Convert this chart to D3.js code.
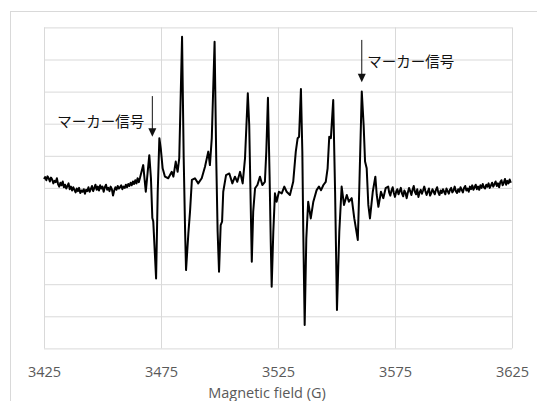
<!DOCTYPE html>
<html>
<head>
<meta charset="utf-8">
<script src="https://cdn.jsdelivr.net/npm/d3@7/dist/d3.min.js"></script>
<style>
  body { margin: 0; background: #fff; }
  svg { display: block; }
  .grid line { stroke: #d9d9d9; stroke-width: 1; }
  .grid path { display: none; }
  .tick-labels text { fill: #595959; font-family: 'Open Sans', sans-serif; font-size: 14.5px; }
  .tick-labels path { display: none; }
  .axis-title { fill: #595959; font-family: 'Open Sans', sans-serif; font-size: 14.5px; }
  .marker-text { fill: #111; font-family: 'Noto Sans CJK JP', sans-serif; font-size: 14.5px; }
</style>
</head>
<body>
<svg id="chart"></svg>
<script>
  // Data: magnetic field (G) vs. ESR signal (arb. units)
  var xTicks = [3425, 3475, 3525, 3575, 3625]
  var yGrid = [-500, -400, -300, -200, -100, 0, 100, 200, 300, 400, 500]
  var xLabel = 'Magnetic field (G)'
  var markerLabel = 'マーカー信号'
  // marker signals: field of arrow, arrow start / tip in signal units
  var markerField = [3471.3, 3560.8]
  var markerFrom = [286, 461]
  var markerTo = [159, 329]

  // baseline noise, left of the signals
  var leftBaseline = [
    [3425, 28], [3425.5, 34], [3426, 24], [3426.5, 36], [3427, 30], [3427.5, 20],
    [3428, 32], [3428.5, 26], [3429, 14], [3429.5, 22], [3430, 18], [3430.5, 30],
    [3431, 12], [3431.5, 4], [3432, 16], [3432.5, 8], [3433, 20], [3433.5, 2],
    [3434, 10], [3434.5, -2], [3435, 6], [3435.5, 14], [3436, -4], [3436.5, 4],
    [3437, -8], [3437.5, 2], [3438, -6], [3438.5, -14], [3439, -2], [3439.5, -10],
    [3440, 0], [3440.5, -16], [3441, -8], [3441.5, -12], [3442, -4], [3442.5, -18],
    [3443, -6], [3443.5, -10], [3444, 2], [3444.5, -12], [3445, -4], [3445.5, 6],
    [3446, -10], [3446.5, 0], [3447, 10], [3447.5, -6], [3448, 4], [3448.5, -8],
    [3449, 8], [3449.5, -2], [3450, 4], [3450.5, -12], [3451, 2], [3451.5, 10],
    [3452, -6], [3452.5, 0], [3453, -10], [3453.5, 4], [3454, -4], [3454.5, -24],
    [3455, -8], [3455.5, 2], [3456, -6], [3456.5, 6], [3457, -2], [3457.5, 2],
    [3458, 8], [3458.5, -4], [3459, 4], [3459.5, 0], [3460, 10], [3460.5, 2],
    [3461, 12], [3461.5, 6], [3462, 16], [3462.5, 8], [3463, 20], [3463.5, 12],
    [3464, 24], [3464.5, 14], [3465, 30], [3465.5, 18]
  ]

  // hyperfine lines and the two marker signals
  var signalRegion = [
    [3466.0, 31], [3467.4, 71], [3468.5, -12], [3470.0, 102], [3470.7, 31],
    [3471.3, -94], [3471.7, -105], [3472.9, -282], [3473.6, -12], [3474.3, 155],
    [3474.9, 123], [3475.7, 61], [3476.7, 35], [3478.1, 30], [3479.6, 50],
    [3480.3, 35], [3481.3, 82], [3482.1, 50], [3482.8, 93], [3484.0, 471],
    [3484.7, 93], [3485.3, -136], [3485.7, -256], [3486.7, -141], [3487.4, -74],
    [3488.2, 25], [3489.5, 30], [3490.9, 14], [3492.4, 30], [3493.8, 66],
    [3495.2, 113], [3495.9, 71], [3496.7, 155], [3497.9, 455], [3498.6, 93],
    [3499.2, -136], [3499.8, -261], [3500.5, -116], [3501.1, -105], [3501.6, -12],
    [3502.8, 40], [3504.2, 45], [3505.5, 14], [3506.6, 35], [3507.6, 19],
    [3508.8, 50], [3509.9, 14], [3510.9, 92], [3512.1, 295], [3512.7, 196],
    [3513.5, -116], [3513.8, -230], [3514.4, -74], [3515.2, -1], [3516.2, 9],
    [3517.3, 35], [3518.3, 9], [3519.4, 19], [3520.0, 113], [3520.7, 281],
    [3521.4, 40], [3521.9, -168], [3522.3, -308], [3523.0, -136], [3523.7, -17],
    [3524.4, -43], [3525.4, -12], [3526.6, -17], [3527.7, 4], [3528.7, -12],
    [3530.1, -22], [3531.5, 19], [3532.6, 113], [3533.4, 155], [3534.0, 159],
    [3534.8, 308], [3535.4, 113], [3535.8, -136], [3536.4, -427], [3537.1, -157],
    [3537.9, -43], [3539.0, -95], [3540.1, -43], [3541.5, -7], [3542.5, 4],
    [3543.4, -7], [3544.4, 9], [3545.4, 19], [3546.2, 61], [3546.9, 159],
    [3547.6, 155], [3548.6, 274], [3549.4, -12], [3550.2, -380], [3551.2, -136],
    [3552.2, 4], [3553.2, -53], [3554.4, -22], [3555.3, -43], [3556.5, -32],
    [3557.6, -95], [3559.1, -162], [3559.7, -12], [3560.8, 300], [3561.6, 196],
    [3562.2, 82], [3562.9, 61], [3563.6, -53], [3564.3, -95], [3565.5, -12],
    [3566.6, 35], [3567.2, -22], [3567.9, -59], [3569.0, -12], [3570.0, -32],
    [3571.0, -1], [3572.1, 4]
  ]

  // baseline noise, right of the signals
  var rightBaseline = [
    [3572.5, -14], [3573, -24], [3573.5, -8], [3574, 2], [3574.5, -16], [3575, -28],
    [3575.5, -12], [3576, -4], [3576.5, -20], [3577, -10], [3577.5, 0], [3578, -18],
    [3578.5, -26], [3579, -8], [3579.5, -16], [3580, -32], [3580.5, -14], [3581, 0],
    [3581.5, -10], [3582, -22], [3582.5, -6], [3583, 6], [3583.5, -12], [3584, -20],
    [3584.5, -4], [3585, -28], [3585.5, -14], [3586, -6], [3586.5, -18], [3587, -8],
    [3587.5, 4], [3588, -10], [3588.5, -22], [3589, -12], [3589.5, -2], [3590, -24],
    [3590.5, -16], [3591, -4], [3591.5, -12], [3592, -20], [3592.5, -6], [3593, 2],
    [3593.5, -14], [3594, -22], [3594.5, -8], [3595, -16], [3595.5, -4], [3596, -12],
    [3596.5, -20], [3597, -2], [3597.5, -10], [3598, -18], [3598.5, -6], [3599, 0],
    [3599.5, -14], [3600, -8], [3600.5, 4], [3601, -10], [3601.5, -16], [3602, -4],
    [3602.5, -12], [3603, 2], [3603.5, -6], [3604, -14], [3604.5, 0], [3605, 6],
    [3605.5, -8], [3606, -2], [3606.5, -12], [3607, 4], [3607.5, -4], [3608, 8],
    [3608.5, -6], [3609, 2], [3609.5, 10], [3610, -4], [3610.5, 4], [3611, -6],
    [3611.5, 8], [3612, 0], [3612.5, 12], [3613, 2], [3613.5, -2], [3614, 10],
    [3614.5, 4], [3615, 14], [3615.5, 0], [3616, 8], [3616.5, 16], [3617, 4],
    [3617.5, 12], [3618, 20], [3618.5, 6], [3619, 14], [3619.5, 2], [3620, 18],
    [3620.5, 24], [3621, 8], [3621.5, 16], [3622, 28], [3622.5, 10], [3623, 22],
    [3623.5, 14], [3624, 26], [3624.5, 16]
  ]

  var spectrum = leftBaseline.concat(signalRegion, rightBaseline)

  // Layout
  var WIDTH = 537
  var HEIGHT = 401
  var margin = { top: 27.4, right: 25, bottom: 52.6, left: 44 }
  var innerW = WIDTH - margin.left - margin.right
  var innerH = HEIGHT - margin.top - margin.bottom

  var svg = d3.select('#chart')
    .attr('width', WIDTH)
    .attr('height', HEIGHT)

  // chart area border
  svg.append('rect')
    .attr('x', 10.5)
    .attr('y', 11.5)
    .attr('width', 600)
    .attr('height', 500)
    .attr('fill', 'none')
    .attr('stroke', '#d9d9d9')

  var g = svg.append('g')
    .attr('transform', 'translate(' + margin.left + ',' + margin.top + ')')

  var x = d3.scaleLinear().domain([3425, 3625]).range([0, innerW])
  var y = d3.scaleLinear().domain([-500, 500]).range([innerH, 0])

  // horizontal grid
  g.append('g')
    .attr('class', 'grid')
    .call(d3.axisLeft(y).tickValues(yGrid).tickSize(-innerW).tickFormat(''))

  // vertical grid
  g.append('g')
    .attr('class', 'grid')
    .attr('transform', 'translate(0,' + innerH + ')')
    .call(d3.axisBottom(x).tickValues(xTicks).tickSize(-innerH).tickFormat(''))

  // tick labels
  g.append('g')
    .attr('class', 'tick-labels')
    .attr('transform', 'translate(0,' + innerH + ')')
    .call(d3.axisBottom(x).tickValues(xTicks).tickSize(0).tickPadding(18).tickFormat(d3.format('d')))

  svg.append('text')
    .attr('class', 'axis-title')
    .attr('x', 267)
    .attr('y', 398)
    .attr('text-anchor', 'middle')
    .text(xLabel)

  // spectrum
  var line = d3.line()
    .x(function (d) { return x(d[0]) })
    .y(function (d) { return y(d[1]) })

  g.append('path')
    .datum(spectrum)
    .attr('d', line)
    .attr('fill', 'none')
    .attr('stroke', '#000')
    .attr('stroke-width', 2)
    .attr('stroke-linejoin', 'round')

  // marker annotations
  var markers = markerField.map(function (f, i) {
    return { field: f, from: markerFrom[i], to: markerTo[i], side: i === 0 ? 'left' : 'right' }
  })

  var mg = g.selectAll('.marker')
    .data(markers)
    .enter()
    .append('g')
    .attr('class', 'marker')

  mg.append('line')
    .attr('x1', function (d) { return x(d.field) })
    .attr('x2', function (d) { return x(d.field) })
    .attr('y1', function (d) { return y(d.from) })
    .attr('y2', function (d) { return y(d.to) - 7 })
    .attr('stroke', '#111')
    .attr('stroke-width', 1)

  mg.append('path')
    .attr('d', function (d) {
      var cx = x(d.field)
      var ty = y(d.to)
      return 'M' + (cx - 4) + ',' + (ty - 8.5) + 'L' + (cx + 4) + ',' + (ty - 8.5) + 'L' + cx + ',' + ty + 'Z'
    })
    .attr('fill', '#111')

  mg.append('text')
    .attr('class', 'marker-text')
    .attr('x', function (d) { return d.side === 'left' ? x(d.field) - 8 : x(d.field) + 5.5 })
    .attr('y', function (d) { return d.side === 'left' ? 121.6 - margin.top : 61.6 - margin.top })
    .attr('dy', '0.36em')
    .attr('text-anchor', function (d) { return d.side === 'left' ? 'end' : 'start' })
    .text(markerLabel)
</script>
</body>
</html>
